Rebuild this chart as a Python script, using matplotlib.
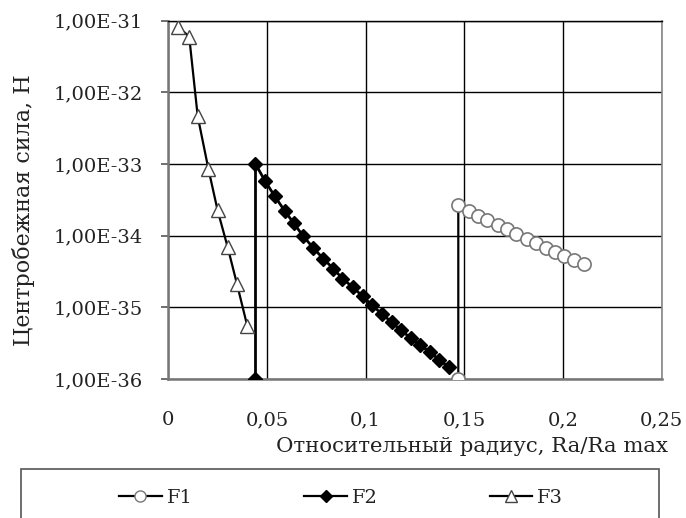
import math

import matplotlib
matplotlib.use("Agg")
import matplotlib.pyplot as plt
from matplotlib.lines import Line2D
from matplotlib.patches import Rectangle
from matplotlib.ticker import FixedLocator, FuncFormatter, NullLocator

# F1: vertical drop at r ~ 0.147, then slow decay
F1_X = [0.147, 0.147, 0.1525, 0.157, 0.1618, 0.1669, 0.1717, 0.1765, 0.1816,
        0.1863, 0.1914, 0.1959, 0.2006, 0.2057, 0.2106]
F1_Y = [1e-36, 2.67e-34, 2.22e-34, 1.89e-34, 1.65e-34, 1.40e-34, 1.22e-34, 1.05e-34,
        9.1e-35, 7.8e-35, 6.75e-35, 5.93e-35, 5.16e-35, 4.65e-35, 3.99e-35]

# F2: vertical jump at r ~ 0.044, then decay
F2_X = [0.0442, 0.0442, 0.049, 0.0539, 0.059, 0.0637, 0.0684, 0.0735, 0.0785, 0.0836,
        0.0883, 0.0934, 0.0985, 0.1033, 0.1081, 0.1132, 0.1179, 0.1228, 0.1275,
        0.1326, 0.1373, 0.1422]
F2_Y = [1e-36, 1e-33, 5.83e-34, 3.57e-34, 2.22e-34, 1.48e-34, 9.84e-35, 6.75e-35,
        4.80e-35, 3.48e-35, 2.52e-35, 1.92e-35, 1.43e-35, 1.07e-35, 8.16e-36,
        6.23e-36, 4.77e-36, 3.77e-36, 3.01e-36, 2.37e-36, 1.86e-36, 1.46e-36]

F3_X = [0.0051, 0.0106, 0.0149, 0.0203, 0.025, 0.0301, 0.0348, 0.040]
F3_Y = [8.2e-32, 5.97e-32, 4.65e-33, 8.6e-34, 2.25e-34, 6.9e-35, 2.12e-35, 5.55e-36]

X_TICKS = [0, 0.05, 0.1, 0.15, 0.2, 0.25]
X_TICK_LABELS = ["0", "0,05", "0,1", "0,15", "0,2", "0,25"]
Y_TICKS = [1e-36, 1e-35, 1e-34, 1e-33, 1e-32, 1e-31]

FONT = "DejaVu Serif"
FS = 14
TXT = "#222222"

plt.rcParams["font.family"] = FONT

W, H = 686, 518
fig = plt.figure(figsize=(W / 100, H / 100), dpi=100)


def px(x, y):
    return x / W, 1 - y / H


left, top = px(168.3, 20.7)
right, bottom = px(661.5, 379)
ax = fig.add_axes([left, bottom, right - left, top - bottom])

ax.plot(F1_X, F1_Y, color="black", lw=1.6, marker="o", ms=9.5,
        mfc="white", mec="#777777", mew=1.2, zorder=4, label="F1")
ax.plot(F2_X, F2_Y, color="black", lw=2.0, marker="D", ms=7,
        mfc="black", mec="black", zorder=3, label="F2")
ax.plot(F3_X, F3_Y, color="black", lw=1.6, marker="^", ms=10.5,
        mfc="white", mec="#444444", mew=1.0, zorder=4, label="F3")

ax.set_yscale("log")
ax.set_xlim(0, 0.25)
ax.set_ylim(1e-36, 1e-31)
ax.xaxis.set_major_locator(FixedLocator(X_TICKS))
ax.set_xticklabels(X_TICK_LABELS)
ax.yaxis.set_major_locator(FixedLocator(Y_TICKS))
ax.yaxis.set_minor_locator(NullLocator())
ax.yaxis.set_major_formatter(FuncFormatter(
    lambda v, pos: "1,00E-%d" % round(-math.log10(v))))

ax.grid(True, color="black", lw=1.0)
ax.set_axisbelow(True)
ax.tick_params(axis="x", length=0, pad=23, labelsize=FS, labelcolor=TXT)
ax.tick_params(axis="y", length=5, width=1.2, color="#555555", pad=13,
               labelsize=FS, labelcolor=TXT)

for side in ("left", "bottom"):
    ax.spines[side].set_color("#777777")
    ax.spines[side].set_linewidth(1.8)
ax.spines["right"].set_color("#888888")
ax.spines["right"].set_linewidth(1.2)
ax.spines["top"].set_color("black")
ax.spines["top"].set_linewidth(1.0)

fig.text(*px(24, 210), "Центробежная сила, Н", rotation=90,
         ha="center", va="center", fontsize=16, color=TXT)
fig.text(*px(668, 447), "Относительный радиус, Ra/Ra max",
         ha="right", va="center", fontsize=15.3, color=TXT)

# legend box along the bottom, running off the canvas
x0, y0 = px(21, 469)
x1, y1 = px(659, 530)
fig.patches.append(Rectangle((x0, y1), x1 - x0, y0 - y1, transform=fig.transFigure,
                             fill=False, edgecolor="#555555", lw=1.2))

handles = [
    Line2D([0], [0], color="black", lw=1.6, marker="o", ms=8,
           mfc="white", mec="#777777", label="F1"),
    Line2D([0], [0], color="black", lw=1.6, marker="D", ms=6,
           mfc="black", mec="black", label="F2"),
    Line2D([0], [0], color="black", lw=1.6, marker="^", ms=9,
           mfc="white", mec="#444444", label="F3"),
]
leg = fig.legend(handles=handles, loc="center left", bbox_to_anchor=px(119, 498),
                 ncol=3, frameon=False, fontsize=FS, handlelength=2.2,
                 handletextpad=0.25, columnspacing=5.75, borderpad=0,
                 borderaxespad=0)
for t in leg.get_texts():
    t.set_color(TXT)

fig.savefig("out.png", dpi=100)
